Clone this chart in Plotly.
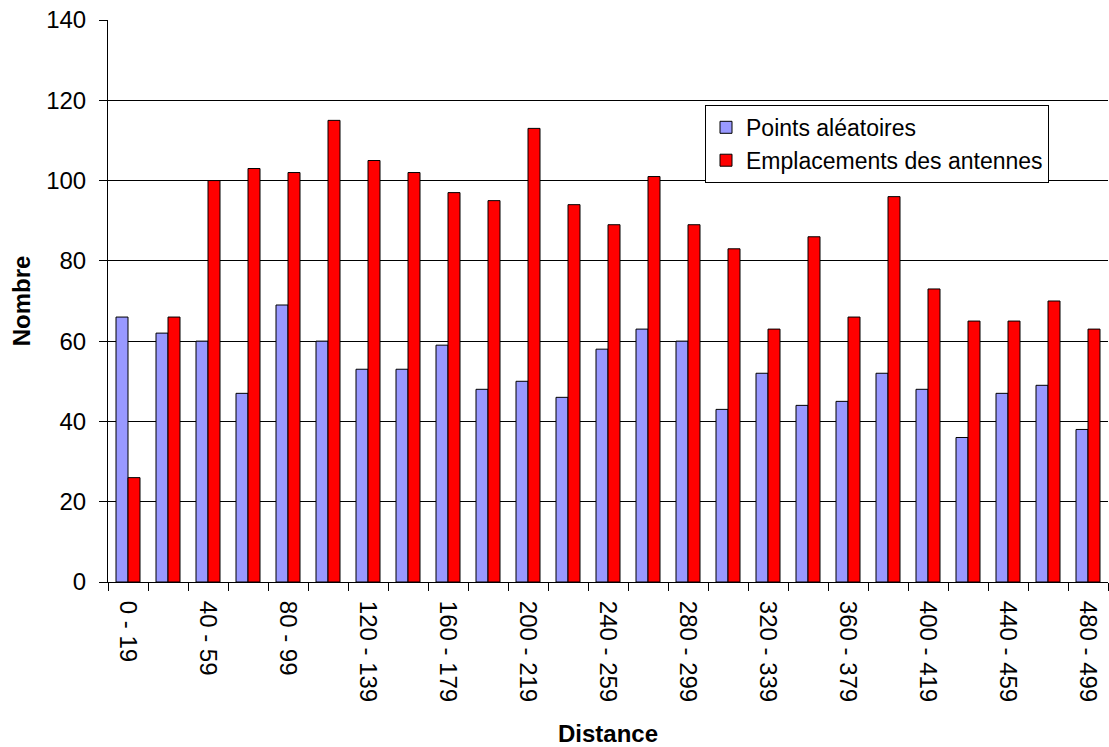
import plotly.graph_objects as go

categories = ["0 - 19", "20 - 39", "40 - 59", "60 - 79", "80 - 99", "100 - 119", "120 - 139",
              "140 - 159", "160 - 179", "180 - 199", "200 - 219", "220 - 239", "240 - 259",
              "260 - 279", "280 - 299", "300 - 319", "320 - 339", "340 - 359", "360 - 379",
              "380 - 399", "400 - 419", "420 - 439", "440 - 459", "460 - 479", "480 - 499"]
points_aleatoires = [66, 62, 60, 47, 69, 60, 53, 53, 59, 48, 50, 46, 58, 63, 60, 43, 52, 44, 45,
                     52, 48, 36, 47, 49, 38]
emplacements = [26, 66, 100, 103, 102, 115, 105, 102, 97, 95, 113, 94, 89, 101, 89, 83, 63, 86,
                66, 96, 73, 65, 65, 70, 63]
y_ticks = [0, 20, 40, 60, 80, 100, 120, 140]

idx = list(range(len(categories)))
FONT = "Liberation Sans, Arial, sans-serif"
FS = 24

fig = go.Figure()
fig.add_trace(go.Bar(x=idx, y=points_aleatoires, name="Points aléatoires",
                     marker=dict(color="#9999FF", line=dict(color="black", width=1))))
fig.add_trace(go.Bar(x=idx, y=emplacements, name="Emplacements des antennes",
                     marker=dict(color="#FF0000", line=dict(color="black", width=1))))

fig.update_layout(
    width=1109, height=747,
    margin=dict(l=108, r=1, t=20, b=165),
    paper_bgcolor="white", plot_bgcolor="white",
    barmode="group", bargap=0.4, bargroupgap=0,
    font=dict(family=FONT, size=FS, color="black"),
    showlegend=True,
    legend=dict(x=0.597, y=0.849, xanchor="left", yanchor="top",
                bgcolor="white", bordercolor="black", borderwidth=1,
                font=dict(size=23, family=FONT), tracegroupgap=0, itemwidth=30),
    xaxis=dict(
        range=[-0.5, len(categories) - 0.5],
        tickmode="array",
        tickvals=idx[::2], ticktext=categories[::2],
        tickangle=90, ticks="", showgrid=False,
        showline=True, linecolor="black", linewidth=1,
        tickfont=dict(size=FS, family=FONT),
        ticklabelstandoff=13,
        minor=dict(tickvals=[i - 0.5 for i in range(len(categories) + 1)],
                   ticks="outside", ticklen=8, tickcolor="black", showgrid=False),
        title=dict(text="<b>Distance</b>", font=dict(size=FS, family=FONT), standoff=24),
        zeroline=False,
    ),
    yaxis=dict(
        range=[0, 140], tickvals=y_ticks,
        ticks="outside", ticklen=8, tickcolor="black",
        showgrid=True, gridcolor="black", gridwidth=1,
        showline=True, linecolor="black", linewidth=1,
        tickfont=dict(size=FS, family=FONT),
        ticklabelstandoff=8,
        title=dict(text="<b>Nombre</b>", font=dict(size=FS, family=FONT), standoff=8),
        zeroline=False,
    ),
)

fig.write_html("out.html")
